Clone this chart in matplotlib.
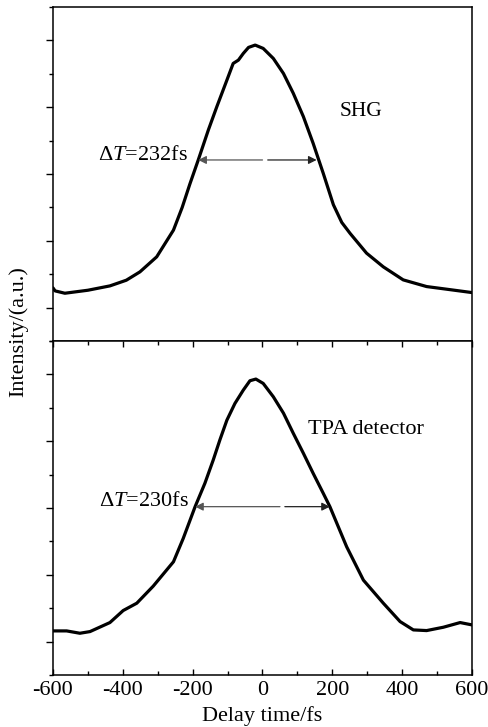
import matplotlib
matplotlib.use("Agg")
import matplotlib.pyplot as plt
from matplotlib.ticker import MultipleLocator

plt.rcParams['font.family'] = ['Liberation Serif', 'DejaVu Serif']
plt.rcParams['mathtext.fontset'] = 'custom'
plt.rcParams['mathtext.rm'] = 'Liberation Serif'
plt.rcParams['mathtext.it'] = 'Liberation Serif:italic'

# SHG autocorrelation trace (delay fs, intensity a.u.)
shg_t = [-600, -594, -566, -500, -437, -390, -351, -303, -255, -230, -208, -184,
         -155, -131, -102, -84, -69, -55, -40, -21, 2, 31, 60, 88, 117, 145, 174,
         203, 227, 251, 298, 346, 403, 470, 528, 600]
shg_i = [0.59, 0.50, 0.43, 0.52, 0.65, 0.82, 1.07, 1.52, 2.32, 3.00, 3.70, 4.42,
         5.32, 6.01, 6.81, 7.31, 7.41, 7.61, 7.79, 7.86, 7.76, 7.46, 7.01, 6.42,
         5.72, 4.92, 4.02, 3.08, 2.55, 2.22, 1.63, 1.22, 0.83, 0.63, 0.55, 0.45]

# TPA detector trace
tpa_t = [-600, -561, -523, -494, -437, -399, -360, -313, -255, -227, -193, -165,
         -141, -122, -102, -79, -55, -36, -19, 2, 31, 60, 88, 117, 145, 174, 193,
         241, 289, 346, 394, 432, 470, 518, 566, 600]
tpa_i = [0.32, 0.32, 0.25, 0.30, 0.57, 0.93, 1.15, 1.66, 2.39, 3.09, 4.04, 4.74,
         5.44, 6.04, 6.63, 7.13, 7.53, 7.81, 7.86, 7.73, 7.33, 6.84, 6.24, 5.64,
         5.04, 4.44, 4.04, 2.84, 1.84, 1.15, 0.60, 0.35, 0.33, 0.43, 0.57, 0.50]

xticks = [-600, -400, -200, 0, 200, 400, 600]
shg_fwhm = [-184, 155, 4.42]   # left, right, level
tpa_fwhm = [-193, 193, 4.04]
shg_label = "232fs"
tpa_label = "230fs"

fig = plt.figure(figsize=(4.89, 7.27), dpi=100)
L, R = 53/489, 472/489
top = 1 - 7/727
mid = 1 - 341/727
bot = 1 - 675/727
ax1 = fig.add_axes([L, mid, R - L, top - mid])
ax2 = fig.add_axes([L, bot, R - L, mid - bot])

for ax in (ax1, ax2):
    ax.set_xlim(-600, 600)
    ax.set_ylim(-1, 9)
    ax.yaxis.set_major_locator(MultipleLocator(2))
    ax.yaxis.set_minor_locator(MultipleLocator(1))
    ax.xaxis.set_major_locator(MultipleLocator(200))
    ax.xaxis.set_minor_locator(MultipleLocator(100))
    ax.set_yticklabels([])
    ax.tick_params(axis='y', which='major', direction='out', length=5, width=1, left=True, right=False)
    ax.tick_params(axis='y', which='minor', direction='out', length=3, width=1, left=True, right=False)
    for s in ax.spines.values():
        s.set_linewidth(1.1)

ax1.tick_params(axis='x', which='both', bottom=False, top=False, labelbottom=False)
ax2.tick_params(axis='x', which='major', direction='in', length=4.5, width=1, top=True, bottom=True, labelsize=16, pad=4)
ax2.tick_params(axis='x', which='minor', direction='in', length=3, width=1, top=True, bottom=True)
ax2.set_xticks(xticks)
ax2.set_xticklabels([str(v) for v in xticks])

ax1.plot(shg_t, shg_i, color='black', lw=2.3, solid_joinstyle='round', solid_capstyle='round')
ax2.plot(tpa_t, tpa_i, color='black', lw=2.3, solid_joinstyle='round', solid_capstyle='round')

def fwhm_arrow(ax, fw, gap):
    l, r, y = fw
    ax.annotate('', xy=(l, y), xytext=(gap[0], y),
                arrowprops=dict(arrowstyle='-|>', color='#555555', lw=0.9,
                                mutation_scale=12, shrinkA=0, shrinkB=0))
    ax.annotate('', xy=(r, y), xytext=(gap[1], y),
                arrowprops=dict(arrowstyle='-|>', color='#222222', lw=0.9,
                                mutation_scale=12, shrinkA=0, shrinkB=0))

fwhm_arrow(ax1, shg_fwhm, (0, 15))
fwhm_arrow(ax2, tpa_fwhm, (50, 64))

ax1.text(-214, 4.55, "Δ$\\mathit{T}$=" + shg_label, ha='right', va='center', fontsize=16)
ax2.text(-210, 4.2, "Δ$\\mathit{T}$=" + tpa_label, ha='right', va='center', fontsize=16)
ax1.text(222, 5.87, "SHG", ha='left', va='center', fontsize=15.5)
ax2.text(131, 6.34, "TPA detector", ha='left', va='center', fontsize=16)

ax2.set_xlabel("Delay time/fs", fontsize=16, labelpad=5)
fig.text(18/489, 1 - 332/727, "Intensity/(a.u.)", rotation=90, ha='center', va='center', fontsize=16)

fig.savefig("out.png", dpi=100)
